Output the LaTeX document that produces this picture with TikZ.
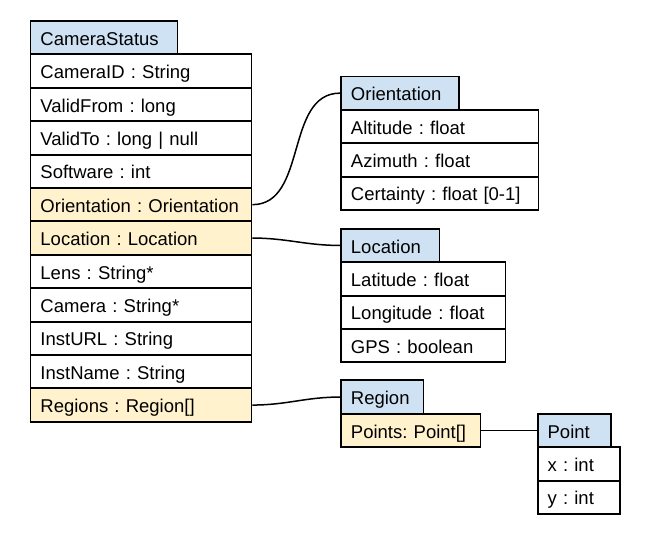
\documentclass[tikz,border=0pt]{standalone}
\usepackage{fontspec}
\setmainfont{Liberation Sans}
\definecolor{hdrblue}{HTML}{CFE2F3}
\definecolor{refyellow}{HTML}{FFF2CC}
\tikzset{
  cell/.style={draw=black, line width=1.9pt, rectangle, anchor=north west,
    inner xsep=10pt, inner ysep=0pt, minimum height=33.4pt,
    text height=18pt, text depth=2.8pt,
    font=\fontsize{18.5}{22}\selectfont\frenchspacing, align=left},
  hdr/.style={cell, fill=hdrblue},
  fld/.style={cell, fill=white},
  reffld/.style={cell, fill=refyellow},
  link/.style={draw=black, line width=1.5pt, out=0, in=180},
}
\begin{document}
\begin{tikzpicture}[x=1pt, y=-1pt]
\useasboundingbox (0,0) rectangle (650,535);

% CameraStatus
\node[hdr, minimum width=147pt, text width=127pt] (cs) at (29.5,20) {CameraStatus};
\node[fld, minimum width=221pt, text width=201pt] (cs1) at (29.5,53.4) {CameraID : String};
\node[fld, minimum width=221pt, text width=201pt] (cs2) at (29.5,86.8) {ValidFrom : long};
\node[fld, minimum width=221pt, text width=201pt] (cs3) at (29.5,120.2) {ValidTo : long | null};
\node[fld, minimum width=221pt, text width=201pt] (cs4) at (29.5,153.6) {Software : int};
\node[reffld, minimum width=221pt, text width=201pt] (cs5) at (29.5,187.0) {Orientation : Orientation};
\node[reffld, minimum width=221pt, text width=201pt] (cs6) at (29.5,220.4) {Location : Location};
\node[fld, minimum width=221pt, text width=201pt] (cs7) at (29.5,253.8) {Lens : String*};
\node[fld, minimum width=221pt, text width=201pt] (cs8) at (29.5,287.2) {Camera : String*};
\node[fld, minimum width=221pt, text width=201pt] (cs9) at (29.5,320.6) {InstURL : String};
\node[fld, minimum width=221pt, text width=201pt] (cs10) at (29.5,354.0) {InstName : String};
\node[reffld, minimum width=221pt, text width=201pt] (cs11) at (29.5,387.4) {Regions : Region[]};

% Orientation
\node[hdr, minimum width=118pt, text width=98pt] (or) at (340,75.5) {Orientation};
\node[fld, minimum width=197.5pt, text width=177.5pt] (or1) at (340,108.9) {Altitude : float};
\node[fld, minimum width=197.5pt, text width=177.5pt] (or2) at (340,142.3) {Azimuth : float};
\node[fld, minimum width=197.5pt, text width=177.5pt] (or3) at (340,175.7) {Certainty : float [0-1]};

% Location
\node[hdr, minimum width=98.5pt, text width=78.5pt] (lo) at (340,227.8) {Location};
\node[fld, minimum width=164.5pt, text width=144.5pt] (lo1) at (340,261.2) {Latitude : float};
\node[fld, minimum width=164.5pt, text width=144.5pt] (lo2) at (340,294.6) {Longitude : float};
\node[fld, minimum width=164.5pt, text width=144.5pt] (lo3) at (340,328.0) {GPS : boolean};

% Region
\node[hdr, minimum width=82.5pt, text width=62.5pt] (re) at (340,379.4) {Region};
\node[reffld, minimum width=139.5pt, text width=119.5pt] (re1) at (340,412.8) {Points: Point[]};

% Point
\node[hdr, minimum width=73.5pt, text width=53.5pt] (pt) at (536.7,412.8) {Point};
\node[fld, minimum width=82.5pt, text width=62.5pt] (pt1) at (536.7,446.2) {x : int};
\node[fld, minimum width=82.5pt, text width=62.5pt] (pt2) at (536.7,479.6) {y : int};

% references between types
\draw[link] (cs5.east) to (or.west);
\draw[link] (cs6.east) to (lo.west);
\draw[link] (cs11.east) to (re.west);
\draw[link] (re1.east) to (pt.west);
\end{tikzpicture}
\end{document}
